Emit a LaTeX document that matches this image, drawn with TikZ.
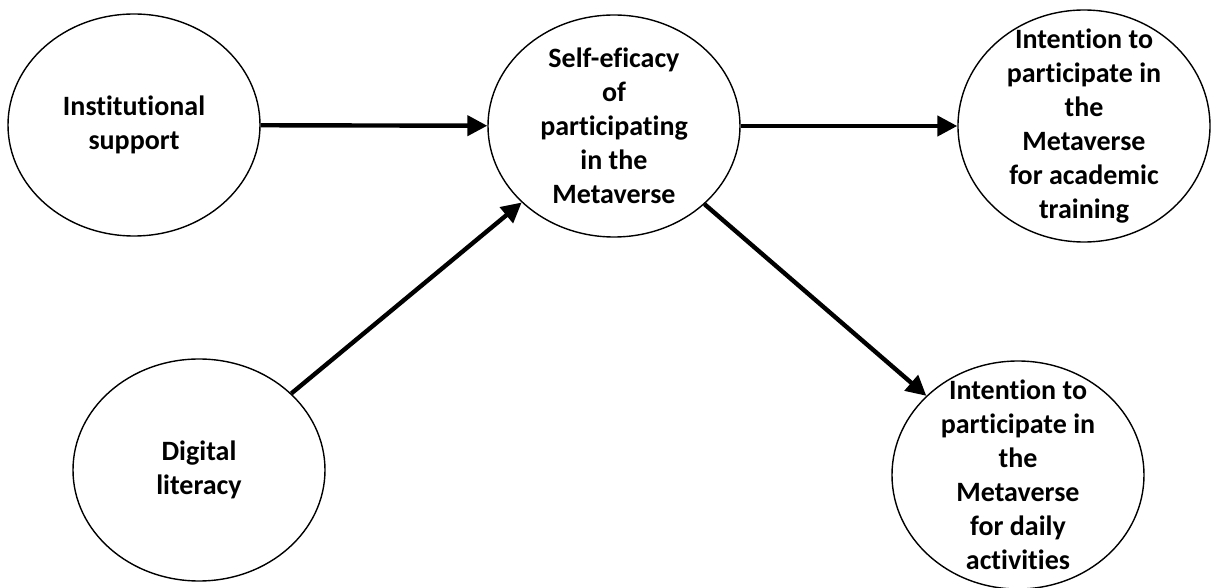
\documentclass[tikz,border=0pt]{standalone}
\usepackage{fontspec}
\setmainfont{Carlito}[Ligatures=NoCommon]
\usepackage{tikz}
\usetikzlibrary{shapes.geometric, arrows.meta}

\begin{document}
\begin{tikzpicture}[
        x=0.5pt, y=-0.5pt,
        construct/.style={ellipse, draw, line width=0.7pt, minimum width=126pt, minimum height=111pt, inner sep=0pt},
        txt/.style={align=center, font=\fontsize{14}{17}\selectfont\bfseries},
        arrow/.style={-{Triangle[length=10pt, width=10pt]}, line width=2.2pt}
    ]
        \useasboundingbox (0,0) rectangle (1212,588);

        % Left column: antecedents
        \node[construct, label={[txt]center:{Institutional\\support}}] (inst) at (134,125) {};
        \node[construct, label={[txt]center:{Digital\\literacy}}] (digital) at (199,470) {};

        % Middle: mediator
        \node[construct, label={[txt]center:{Self-eficacy\\of\\participating\\in the\\Metaverse}}] (selfeff) at (614,126) {};

        % Right column: outcomes
        \node[construct, minimum height=116pt, label={[txt]center:{Intention to\\participate in\\the\\Metaverse\\for academic\\training}}] (academic) at (1084,126) {};
        \node[construct, minimum height=114pt, label={[txt]center:{Intention to\\participate in\\the\\Metaverse\\for daily\\activities}}] (daily) at (1018,475) {};

        % Arrows
        \draw[arrow] (inst) -- (selfeff);
        \draw[arrow] (digital) -- (selfeff);
        \draw[arrow] (selfeff) -- (academic);
        \draw[arrow] (selfeff) -- (daily);

    \end{tikzpicture}
\end{document}
